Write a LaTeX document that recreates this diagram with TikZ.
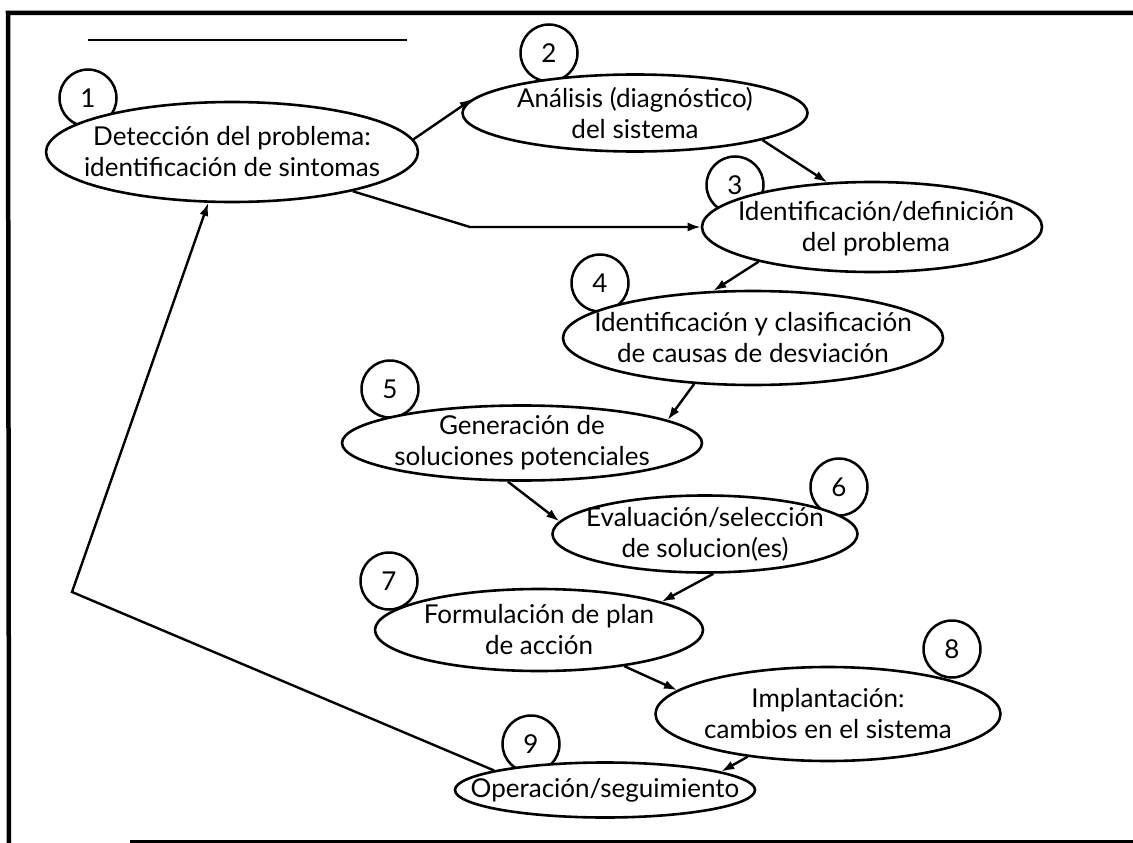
\documentclass[tikz,border=0pt]{standalone}
\usepackage{fontspec}
\setmainfont{Lato}
\usetikzlibrary{shapes.geometric,arrows.meta}
\begin{document}
\begin{tikzpicture}[x=1pt,y=-1pt,
  stage/.style={ellipse, draw, line width=2.6pt, fill=white, inner sep=0pt},
  stagetext/.style={align=center, inner sep=0pt, font=\fontsize{26}{31}\selectfont},
  numc/.style={circle, draw, line width=2.5pt, fill=white, minimum size=57pt, inner sep=0pt, font=\fontsize{26}{26}\selectfont},
  flow/.style={line width=2.4pt, -{Latex[length=13pt,width=9pt]}},
  framel/.style={line width=4.5pt}]
\useasboundingbox (0,0) rectangle (1133,843);
\fill[white] (0,0) rectangle (1133,843);
% frame
\coordinate (fa) at (8,13);
\coordinate (fb) at (1133,13);
\coordinate (fc) at (9,843);
\coordinate (fd) at (130,841);
\coordinate (fe) at (1133,841);
\draw[framel] (fc) -- (fa) -- (fb);
\draw[line width=3pt] (fd) -- (fe);
% short rule at top
\coordinate (ra) at (88,40);
\coordinate (rb) at (407,40);
\draw[line width=2.2pt] (ra) -- (rb);

% number circles
\node[numc] (c1) at (88,98) {1};
\node[numc] (c2) at (549,53) {2};
\node[numc] (c3) at (735,185) {3};
\node[numc] (c4) at (600,283) {4};
\node[numc] (c5) at (390,389) {5};
\node[numc] (c6) at (839,487) {6};
\node[numc] (c7) at (389,581) {7};
\node[numc] (c8) at (952,649) {8};
\node[numc] (c9) at (531,744) {9};

% stage ellipses
\node[stage, minimum width=372pt, minimum height=100pt] (e1) at (232,152) {};
\node[stage, minimum width=345pt, minimum height=77pt] (e2) at (635,113) {};
\node[stage, minimum width=340pt, minimum height=90pt] (e3) at (872,227) {};
\node[stage, minimum width=380pt, minimum height=94pt] (e4) at (753,338) {};
\node[stage, minimum width=360pt, minimum height=75pt] (e5) at (522,443) {};
\node[stage, minimum width=305pt, minimum height=77pt] (e6) at (705,534) {};
\node[stage, minimum width=328pt, minimum height=82pt] (e7) at (539,630) {};
\node[stage, minimum width=345pt, minimum height=94pt] (e8) at (828,714) {};
\node[stage, minimum width=300pt, minimum height=55pt] (e9) at (605,790) {};

\node[stagetext] (t1) at (e1) {Detección del problema:\\identificación de sintomas};
\node[stagetext] (t2) at (e2) {Análisis (diagnóstico)\\del sistema};
\node[stagetext] (t3) at ([xshift=4pt,yshift=-2pt]e3.center) {Identificación/definición\\del problema};
\node[stagetext] (t4) at (e4) {Identificación y clasificación\\de causas de desviación};
\node[stagetext] (t5) at (e5) {Generación de\\soluciones potenciales};
\node[stagetext] (t6) at (e6) {Evaluación/selección\\de solucion(es)};
\node[stagetext] (t7) at (e7) {Formulación de plan\\de acción};
\node[stagetext] (t8) at (e8) {Implantación:\\cambios en el sistema};
\node[stagetext] (t9) at (e9) {Operación/seguimiento};

% connectors
\coordinate (k13) at (470,227);
\coordinate (k91) at (72,592);
\draw[flow] (e1.4) -- (e2.175);
\draw[flow] (e2.348) -- (e3.135);
\draw[flow] (e1.342) -- (k13) -- (e3.west);
\draw[flow] (e3.197) -- (e4.130);
\draw[flow] (e4.218) -- (e5.9);
\draw[flow] (e5.250) -- (e6.175);
\draw[flow] (e6.282) -- (e7.13);
\draw[flow] (e7.337) -- (e8.171);
\draw[flow] (e8.208) -- (e9.9);
\draw[flow] (e9.170) -- (k91) -- (e1.245);
\end{tikzpicture}
\end{document}
